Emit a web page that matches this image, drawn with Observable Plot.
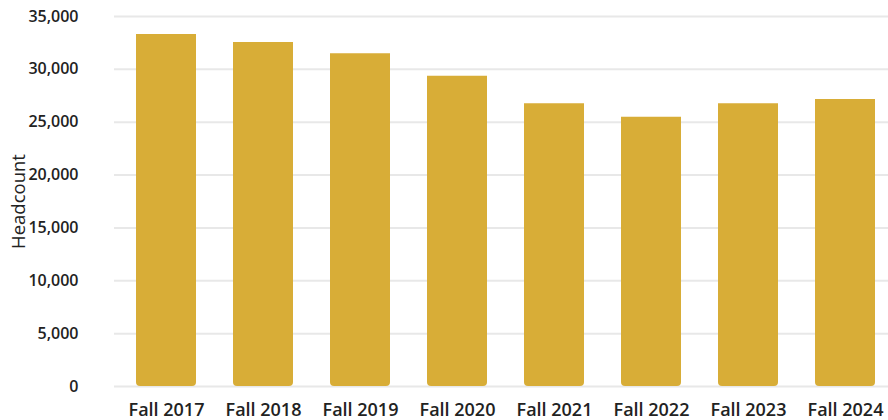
<!DOCTYPE html>
<html>
<head>
<meta charset="utf-8">
<script src="https://cdn.jsdelivr.net/npm/d3@7"></script>
<script src="https://cdn.jsdelivr.net/npm/@observablehq/plot@0.6"></script>
<style>
  html, body { margin: 0; padding: 0; background: #fff; }
  #chart svg { display: block; }
</style>
</head>
<body>
<div id="chart"></div>
<script>
const terms = ["Fall 2017", "Fall 2018", "Fall 2019", "Fall 2020", "Fall 2021", "Fall 2022", "Fall 2023", "Fall 2024"];
const headcount = [33300, 32540, 31470, 29350, 26740, 25480, 26740, 27150];
const yTicks = [0, 5000, 10000, 15000, 20000, 25000, 30000, 35000];

const data = terms.map((t, i) => ({term: t, value: headcount[i]}));

const chart = Plot.plot({
  width: 888,
  height: 420,
  marginLeft: 114,
  marginRight: 0,
  marginTop: 16,
  marginBottom: 34,
  style: {fontFamily: "'Open Sans', sans-serif", background: "#fff", color: "#222"},
  x: {domain: terms, range: [114.8, 895.6], paddingInner: 0.38, paddingOuter: 0.19, label: null},
  y: {domain: [0, 35000], ticks: yTicks, label: null, tickFormat: d3.format(",")},
  marks: [
    Plot.gridY(yTicks, {stroke: "#e8e8e8", strokeOpacity: 1, strokeWidth: 2}),
    Plot.rectY(data, {x: "term", y: "value", fill: "#d8ad37", ry1: 4, rx1y1: 4, rx2y1: 4}),
    Plot.axisY(yTicks, {tickSize: 0, tickPadding: 36, fontSize: 16, fontWeight: 600, fill: "#222", label: null, tickFormat: d3.format(",")}),
    Plot.axisX({tickSize: 0, tickPadding: 17, fontSize: 18, fontWeight: 600, fill: "#222", label: null}),
    Plot.text(["Headcount"], {frameAnchor: "left", textAnchor: "middle", dx: -95, rotate: -90, fontSize: 18.5, fill: "#222"})
  ]
});
document.getElementById("chart").appendChild(chart);
</script>
</body>
</html>
